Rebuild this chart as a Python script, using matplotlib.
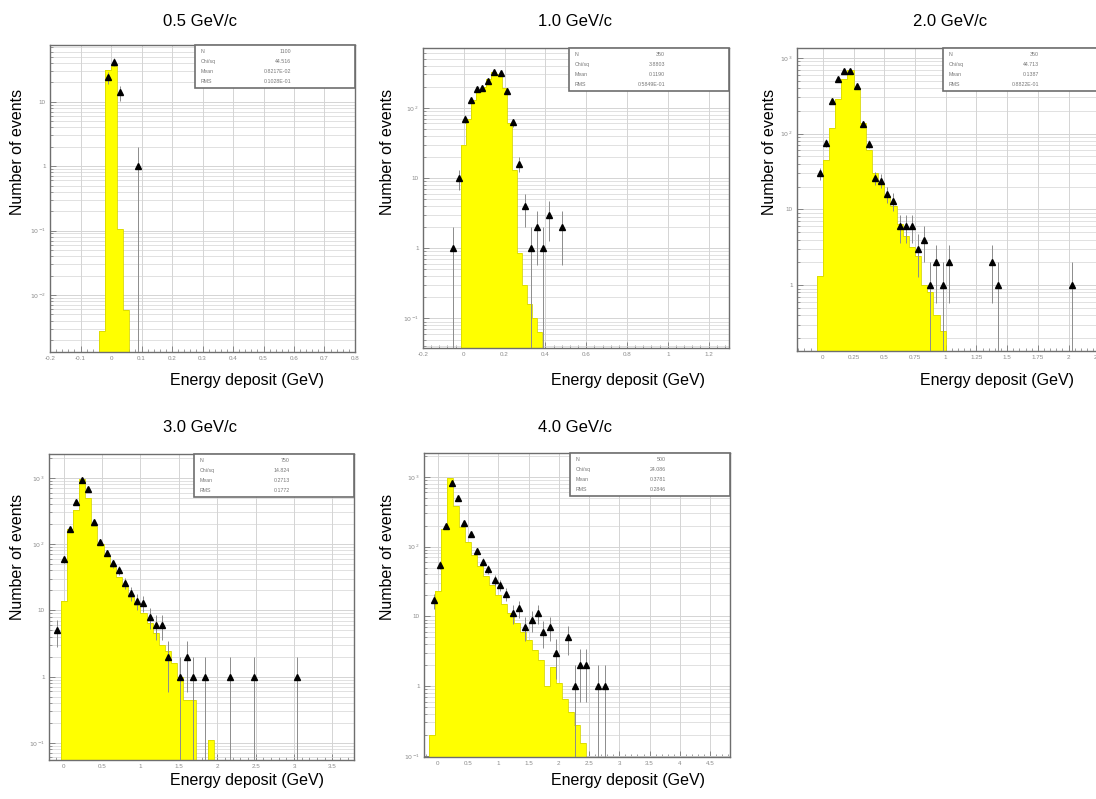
import numpy as np
import matplotlib
matplotlib.use("Agg")
import matplotlib.pyplot as plt
from matplotlib.ticker import FixedLocator, FuncFormatter, LogLocator, AutoMinorLocator, NullFormatter
from matplotlib.patches import Rectangle

plt.rcParams['font.family'] = ['Liberation Sans', 'DejaVu Sans']

W, H = 1096, 799

# ---------------- data ----------------
titles = ["0.5 GeV/c", "1.0 GeV/c", "2.0 GeV/c", "3.0 GeV/c", "4.0 GeV/c"]

# simulated energy deposit histograms (low edge, bin width, contents)
p1_mc_lo, p1_mc_w = -0.04, 0.02
p1_mc = [0.0028, 31, 36, 0.107, 0.0059]
p2_mc_lo, p2_mc_w = -0.015, 0.025
p2_mc = [30, 70, 130, 170, 200, 260, 320, 300, 190, 60, 13, 0.85, 0.3, 0.16, 0.1, 0.065]
p3_mc_lo, p3_mc_w = -0.05, 0.05
p3_mc = [1.3, 45, 120, 290, 530, 690, 400, 140, 60, 30, 22, 15, 11, 6.5, 4.5, 3.2,
         2.4, 1.0, 0.8, 0.4, 0.25]
p4_mc_lo, p4_mc_w = -0.04, 0.08
p4_mc = [14, 170, 330, 950, 490, 190, 100, 65, 45, 32, 23, 16, 12, 9, 6.5, 4.5,
         3.0, 2.4, 1.6, 1.0, 0.45, 0.45, 0, 0, 0.11]
p5_mc_lo, p5_mc_w = -0.15, 0.1
p5_mc = [0.2, 23, 180, 950, 380, 190, 115, 75, 52, 38, 28, 20, 15, 11, 8, 6, 4.5,
         3.3, 2.4, 1.0, 1.9, 1.1, 0.65, 0.43, 0.28, 0.15]

# measured events (bin centre, counts)
p1_x = [-0.01, 0.01, 0.03, 0.09]
p1_n = [24, 42, 14, 1]
p2_x = [-0.055, -0.025, 0.005, 0.035, 0.065, 0.09, 0.12, 0.15, 0.18, 0.21, 0.24,
        0.27, 0.30, 0.33, 0.36, 0.39, 0.42, 0.48]
p2_n = [1, 10, 70, 128, 183, 194, 239, 324, 308, 175, 62, 16, 4, 1, 2, 1, 3, 2]
p3_x = [-0.025, 0.025, 0.075, 0.125, 0.175, 0.225, 0.275, 0.325, 0.375, 0.425,
        0.475, 0.525, 0.575, 0.625, 0.675, 0.725, 0.775, 0.825, 0.875, 0.925,
        0.975, 1.025, 1.375, 1.425, 2.025]
p3_n = [30, 76, 270, 520, 680, 680, 430, 134, 73, 26, 24, 16, 13, 6, 6, 6, 3, 4,
        1, 2, 1, 2, 2, 1, 1]
p4_x = [-0.08, 0.0, 0.08, 0.16, 0.24, 0.32, 0.40, 0.48, 0.56, 0.64, 0.72, 0.80,
        0.88, 0.96, 1.04, 1.12, 1.20, 1.28, 1.36, 1.52, 1.60, 1.68, 1.84, 2.16,
        2.48, 3.04]
p4_n = [5, 59, 168, 435, 920, 667, 217, 108, 74, 51, 40, 26, 18, 14, 13, 8, 6, 6,
        2, 1, 2, 1, 1, 1, 1, 1]
p5_x = [-0.06, 0.03, 0.13, 0.24, 0.33, 0.43, 0.54, 0.64, 0.74, 0.83, 0.94, 1.03,
        1.13, 1.24, 1.34, 1.44, 1.55, 1.65, 1.74, 1.85, 1.95, 2.15, 2.26, 2.35,
        2.45, 2.65, 2.76]
p5_n = [17, 55, 195, 810, 505, 215, 150, 87, 61, 47, 33, 28, 21, 11, 13, 7, 9, 11,
        6, 7, 3, 5, 1, 2, 2, 1, 1]

# x tick labels of each panel
p1_xticks = [-0.2, -0.1, 0, 0.1, 0.2, 0.3, 0.4, 0.5, 0.6, 0.7, 0.8]
p2_xticks = [-0.2, 0, 0.2, 0.4, 0.6, 0.8, 1, 1.2]
p3_xticks = [0, 0.25, 0.5, 0.75, 1, 1.25, 1.5, 1.75, 2, 2.25]
p4_xticks = [0, 0.5, 1, 1.5, 2, 2.5, 3, 3.5]
p5_xticks = [0, 0.5, 1, 1.5, 2, 2.5, 3, 3.5, 4, 4.5]

# statistics box entries
stat_names = ["N", "Chi/sq", "Mean", "RMS"]
p1_stats = ["1100", "44.516", "0.8217E-02", "0.1028E-01"]
p2_stats = ["350", "3.8803", "0.1190", "0.5849E-01"]
p3_stats = ["350", "44.713", "0.1387", "0.8822E-01"]
p4_stats = ["750", "14.824", "0.2713", "0.1772"]
p5_stats = ["500", "24.086", "0.3781", "0.2846"]

# ---------------- layout (pixels) ----------------
# axes boxes: left, top, right, bottom
boxes = [(50, 45, 355, 352), (423, 48, 729, 348), (797, 48, 1103, 351),
         (49, 454, 354, 760), (424, 453, 730, 757)]
xlims = [(-0.2, 0.8), (-0.2, 1.3), (-0.21, 2.28), (-0.19, 3.78), (-0.23, 4.83)]
ylims = [(1.3e-3, 76), (0.038, 710), (0.135, 1350), (0.055, 2290), (0.096, 2200)]
title_pos = [(200, 21), (575, 21), (950, 21), (200, 428), (575, 428)]
ylab_pos = [(18, 152), (387, 152), (769, 152), (18, 557), (387, 557)]
xlab_pos = [(247, 380), (628, 380), (997, 380), (247, 780), (628, 780)]
stat_w_px = 160
stat_h_px = 43

panels = [
    (p1_mc_lo, p1_mc_w, p1_mc, p1_x, p1_n, p1_xticks, p1_stats),
    (p2_mc_lo, p2_mc_w, p2_mc, p2_x, p2_n, p2_xticks, p2_stats),
    (p3_mc_lo, p3_mc_w, p3_mc, p3_x, p3_n, p3_xticks, p3_stats),
    (p4_mc_lo, p4_mc_w, p4_mc, p4_x, p4_n, p4_xticks, p4_stats),
    (p5_mc_lo, p5_mc_w, p5_mc, p5_x, p5_n, p5_xticks, p5_stats),
]


def log_label(v, pos):
    e = int(round(np.log10(v)))
    if e == 0:
        return "1"
    if e == 1:
        return "10"
    return r"$10^{%d}$" % e


fig = plt.figure(figsize=(W / 100, H / 100), dpi=100)
fig.patch.set_facecolor("white")

grid_c = "#d4d4d4"
tick_c = "#8a8a8a"

for i, (lo, w, mc, xs, ns, xt, st) in enumerate(panels):
    l, t, r, b = boxes[i]
    ax = fig.add_axes([l / W, 1 - b / H, (r - l) / W, (b - t) / H])
    ax.set_yscale("log")
    ax.set_xlim(*xlims[i])
    ax.set_ylim(*ylims[i])
    ymin = ylims[i][0]

    # grid
    ax.set_axisbelow(True)
    ax.xaxis.set_major_locator(FixedLocator(xt))
    ax.xaxis.set_minor_locator(AutoMinorLocator(5))
    ax.yaxis.set_major_locator(LogLocator(base=10, numticks=20))
    ax.yaxis.set_minor_locator(LogLocator(base=10, subs=np.arange(2, 10), numticks=20))
    ax.yaxis.set_major_formatter(FuncFormatter(log_label))
    ax.yaxis.set_minor_formatter(NullFormatter())
    ax.xaxis.set_major_formatter(FuncFormatter(lambda v, p: "%g" % v))
    ax.grid(True, which="major", axis="both", color=grid_c, lw=0.7)
    ax.grid(True, which="minor", axis="y", color=grid_c, lw=0.5)

    # simulated histogram
    vals = np.asarray(mc, dtype=float)
    edges = lo + w * np.arange(len(vals) + 1)
    base = ymin * 1e-3
    ax.stairs(np.where(vals > 0, vals, base), edges, baseline=base, fill=True,
              color="#ffff00", zorder=2)
    ax.stairs(np.where(vals > 0, vals, base), edges, baseline=base, fill=False,
              color="#d8d800", lw=0.6, zorder=2)

    # measured points with Poisson errors
    n = np.asarray(ns, dtype=float)
    up = np.sqrt(n)
    low = n - np.maximum(n - np.sqrt(n), ymin * 0.5)
    ax.errorbar(xs, n, yerr=[low, up], fmt="none", ecolor="#8c8c8c",
                elinewidth=0.7, capsize=0, zorder=3)
    ax.plot(xs, n, ls="none", marker="^", ms=5, color="black", zorder=4)

    # axis styling
    for s in ax.spines.values():
        s.set_color("#6e6e6e")
        s.set_linewidth(1.0)
    ax.tick_params(axis="both", which="major", direction="in", length=4,
                   width=0.6, color="#777777", labelsize=4.5, labelcolor=tick_c,
                   pad=3)
    ax.tick_params(axis="both", which="minor", direction="in", length=2,
                   width=0.5, color="#777777")

    # statistics box in the top-right corner
    sw = stat_w_px / (r - l)
    sh = stat_h_px / (b - t)
    ax.add_patch(Rectangle((1 - sw, 1 - sh), sw, sh, transform=ax.transAxes,
                           facecolor="white", edgecolor="#6e6e6e", lw=1.2,
                           zorder=6, clip_on=False))
    for k, (nm, vv) in enumerate(zip(stat_names, st)):
        yy = 1 - sh * (k + 0.6) / 4.2
        ax.text(1 - sw + 0.02, yy, nm, transform=ax.transAxes, fontsize=3.8,
                color="#777777", va="center", ha="left", zorder=7)
        ax.text(1 - sw + sw * 0.6, yy, vv, transform=ax.transAxes, fontsize=3.8,
                color="#777777", va="center", ha="right", zorder=7)

    tx, ty = title_pos[i]
    fig.text(tx / W, 1 - ty / H, titles[i], ha="center", va="center", fontsize=12)
    yx, yy = ylab_pos[i]
    fig.text(yx / W, 1 - yy / H, "Number of events", ha="center", va="center",
             rotation=90, fontsize=11.5)
    xx, xy = xlab_pos[i]
    fig.text(xx / W, 1 - xy / H, "Energy deposit (GeV)", ha="center",
             va="center", fontsize=11.5)

fig.savefig("out.png", dpi=100)
